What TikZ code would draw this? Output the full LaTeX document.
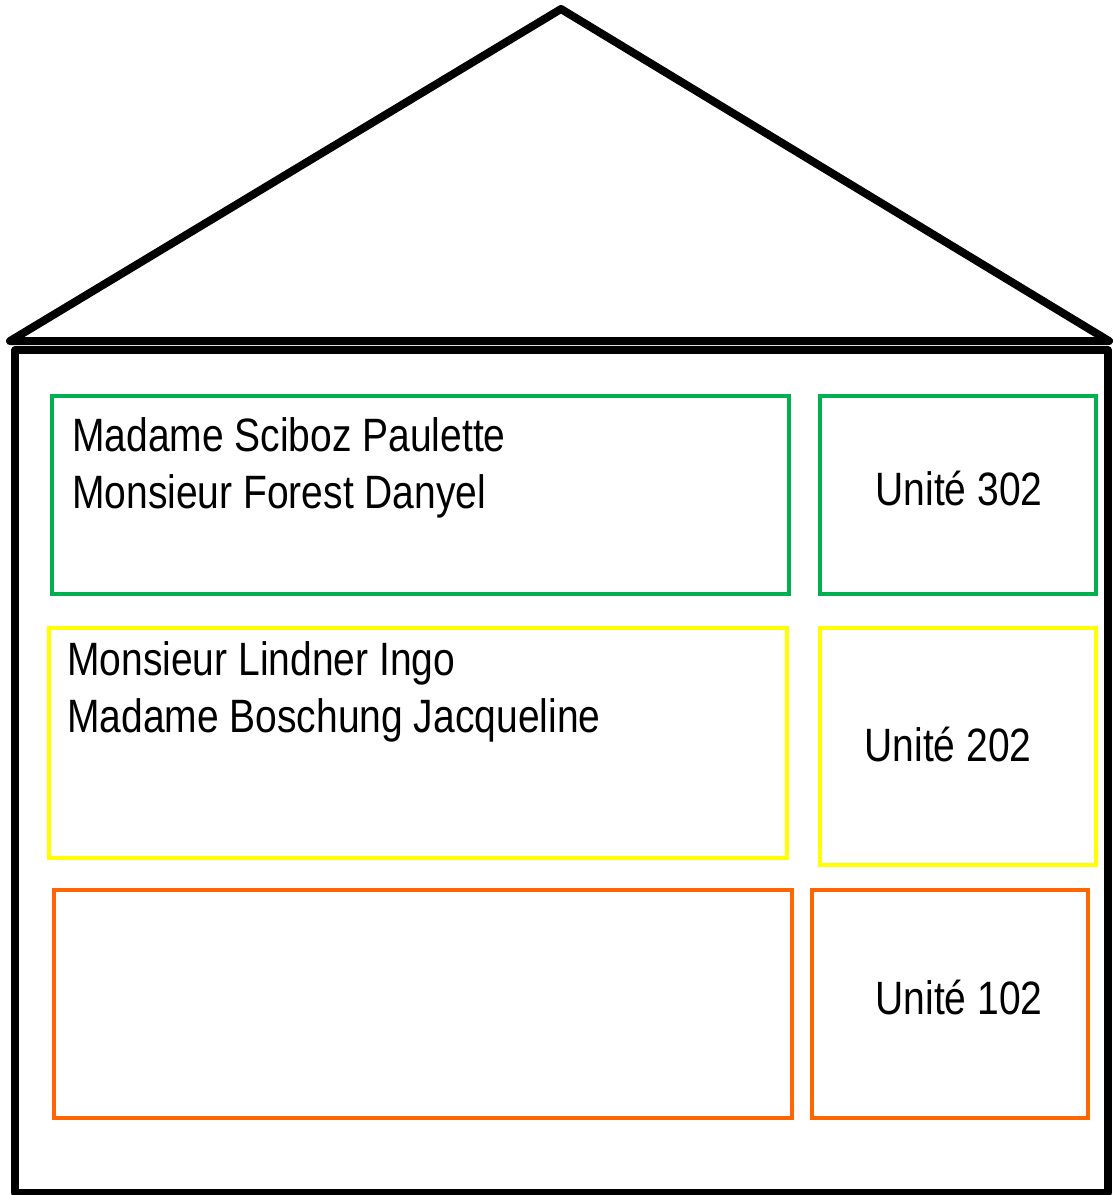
\documentclass[tikz,border=0pt]{standalone}
\usepackage{fontspec}
\setmainfont{Liberation Sans}
\definecolor{floorgreen}{HTML}{00B050}
\definecolor{flooryellow}{HTML}{FFFF00}
\definecolor{floororange}{HTML}{FF6600}
\newcommand{\tallText}[1]{\scalebox{1}[1.2]{#1}}
\newcommand{\occupants}[2]{\tallText{\begin{tabular}[t]{@{}l@{}}#1\\#2\end{tabular}}}
\tikzset{x=1pt,y=-1pt,
 wall/.style={draw=black,line width=8pt,line join=round,line cap=round},
 floorbox/.style={draw,line width=4pt,inner sep=0pt,anchor=north west},
 label text/.style={inner sep=0pt,font=\fontsize{39}{47.5}\selectfont},
 }

\begin{document}
\begin{tikzpicture}
    \useasboundingbox (0,0) rectangle (1112,1195);
    % roof and walls
    \coordinate (roofL) at (10,341);
    \coordinate (roofTop) at (561,9);
    \coordinate (roofR) at (1109,341);
    \draw[wall] (roofL) -- (roofTop) -- (roofR) -- cycle;
    \draw[wall,line cap=butt] (15,350) rectangle (1108,1193);
    % third floor
    \node[floorbox,draw=floorgreen,minimum width=737,minimum height=198] (names3) at (50,394) {};
    \node[floorbox,draw=floorgreen,minimum width=276,minimum height=198] (unit3) at (818,394) {};
    % second floor
    \node[floorbox,draw=flooryellow,minimum width=738,minimum height=230] (names2) at (47,626) {};
    \node[floorbox,draw=flooryellow,minimum width=276,minimum height=237] (unit2) at (818,626) {};
    % first floor
    \node[floorbox,draw=floororange,minimum width=738,minimum height=228] (names1) at (52,888) {};
    \node[floorbox,draw=floororange,minimum width=276,minimum height=228] (unit1) at (810,888) {};
    % texts
    \node[label text,anchor=base west] (occ3) at (72,451) {\occupants{Madame Sciboz Paulette}{Monsieur Forest Danyel}};
    \node[label text,anchor=base west] (occ2) at (67,675) {\occupants{Monsieur Lindner Ingo}{Madame Boschung Jacqueline}};
    \node[label text,anchor=base] (u3) at (959,505) {\tallText{Unité 302}};
    \node[label text,anchor=base] (u2) at (948,761) {\tallText{Unité 202}};
    \node[label text,anchor=base] (u1) at (959,1014) {\tallText{Unité 102}};
\end{tikzpicture}
\end{document}
